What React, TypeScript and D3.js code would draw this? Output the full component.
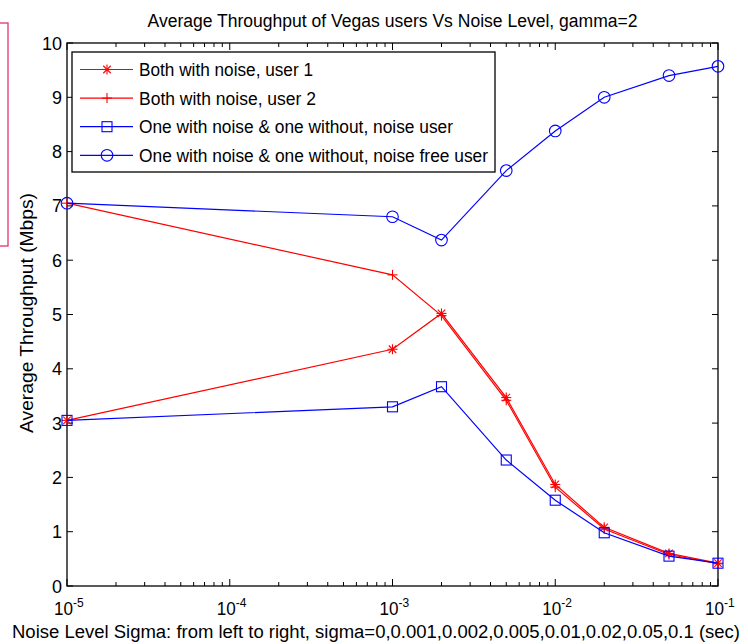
import React, { useEffect, useRef } from "react";
import * as d3 from "d3";

// Noise level sigma (sigma = 0 is plotted at 1e-5 on the log axis)
const sigma = [1e-5, 1e-3, 2e-3, 5e-3, 1e-2, 2e-2, 5e-2, 1e-1];

// Average throughput (Mbps)
const bothUser1 = [3.05, 4.36, 5.02, 3.47, 1.87, 1.08, 0.6, 0.42];
const bothUser2 = [7.05, 5.73, 4.98, 3.42, 1.82, 1.05, 0.58, 0.41];
const mixedNoiseUser = [3.05, 3.3, 3.67, 2.32, 1.58, 0.98, 0.55, 0.42];
const mixedFreeUser = [7.05, 6.8, 6.37, 7.65, 8.38, 9.0, 9.4, 9.57];

const seriesNames = [
  "Both with noise, user 1",
  "Both with noise, user 2",
  "One with noise & one without, noise user",
  "One with noise & one without, noise free user",
];

const yTicks = [0, 1, 2, 3, 4, 5, 6, 7, 8, 9, 10];
const xDecades = [-5, -4, -3, -2, -1];

const W = 748;
const H = 644;
const FONT = "'Liberation Sans', Arial, sans-serif";

type Marker = "star" | "plus" | "square" | "circle";

function drawMarker(g: d3.Selection<SVGGElement, unknown, null, undefined>, kind: Marker, x: number, y: number, color: string) {
  const r = 5;
  if (kind === "plus" || kind === "star") {
    g.append("line").attr("x1", x - r).attr("x2", x + r).attr("y1", y).attr("y2", y).attr("stroke", color).attr("stroke-width", 1.1);
    g.append("line").attr("x1", x).attr("x2", x).attr("y1", y - r).attr("y2", y + r).attr("stroke", color).attr("stroke-width", 1.1);
    if (kind === "star") {
      const d = r * 0.75;
      g.append("line").attr("x1", x - d).attr("x2", x + d).attr("y1", y - d).attr("y2", y + d).attr("stroke", color).attr("stroke-width", 1.1);
      g.append("line").attr("x1", x - d).attr("x2", x + d).attr("y1", y + d).attr("y2", y - d).attr("stroke", color).attr("stroke-width", 1.1);
    }
  } else if (kind === "square") {
    g.append("rect").attr("x", x - 5).attr("y", y - 5).attr("width", 10).attr("height", 10).attr("fill", "none").attr("stroke", color).attr("stroke-width", 1.1);
  } else {
    g.append("circle").attr("cx", x).attr("cy", y).attr("r", 5.8).attr("fill", "none").attr("stroke", color).attr("stroke-width", 1.1);
  }
}

export default function App() {
  const ref = useRef<SVGSVGElement>(null);

  useEffect(() => {
    const svg = d3.select(ref.current);
    svg.selectAll("*").remove();

    const left = 67, right = 718, top = 43, bottom = 586;
    const x = d3.scaleLog().domain([1e-5, 1e-1]).range([left, right]);
    const y = d3.scaleLinear().domain([0, 10]).range([bottom, top]);

    svg.append("rect").attr("width", W).attr("height", H).attr("fill", "#fff");

    // side frame
    svg.append("rect").attr("x", -10).attr("y", 23).attr("width", 18).attr("height", 223)
      .attr("fill", "none").attr("stroke", "#e2336e").attr("stroke-width", 1.3);

    const g = svg.append("g") as d3.Selection<SVGGElement, unknown, null, undefined>;

    // plot box
    g.append("rect").attr("x", left).attr("y", top).attr("width", right - left).attr("height", bottom - top)
      .attr("fill", "none").attr("stroke", "#000").attr("stroke-width", 1.3);

    // y ticks (both sides, inward)
    yTicks.forEach((t) => {
      const py = y(t);
      g.append("line").attr("x1", left).attr("x2", left + 6).attr("y1", py).attr("y2", py).attr("stroke", "#000");
      g.append("line").attr("x1", right).attr("x2", right - 6).attr("y1", py).attr("y2", py).attr("stroke", "#000");
      g.append("text").attr("x", left - 5).attr("y", py + 6.5).attr("text-anchor", "end")
        .attr("font-family", FONT).attr("font-size", 18).attr("fill", "#000").text(String(t));
    });

    // x ticks (log decades with minor ticks, top and bottom)
    const majors = xDecades.map((e) => Math.pow(10, e));
    const minors: number[] = [];
    majors.slice(0, -1).forEach((m) => {
      for (let k = 2; k <= 9; k++) minors.push(m * k);
    });
    majors.forEach((v) => {
      const px = x(v);
      g.append("line").attr("x1", px).attr("x2", px).attr("y1", bottom).attr("y2", bottom - 7).attr("stroke", "#000");
      g.append("line").attr("x1", px).attr("x2", px).attr("y1", top).attr("y2", top + 7).attr("stroke", "#000");
    });
    minors.forEach((v) => {
      const px = x(v);
      g.append("line").attr("x1", px).attr("x2", px).attr("y1", bottom).attr("y2", bottom - 4).attr("stroke", "#000");
      g.append("line").attr("x1", px).attr("x2", px).attr("y1", top).attr("y2", top + 4).attr("stroke", "#000");
    });
    xDecades.forEach((e) => {
      const px = x(Math.pow(10, e));
      const t = g.append("text").attr("x", px - 13).attr("y", 615).attr("text-anchor", "start")
        .attr("font-family", FONT).attr("font-size", 18).attr("fill", "#000");
      t.append("tspan").attr("textLength", 19).attr("lengthAdjust", "spacingAndGlyphs").text("10");
      t.append("tspan").attr("dy", -8).attr("font-size", 12).text(String(e));
    });

    // series
    const series: { vals: number[]; color: string; marker: Marker }[] = [
      { vals: bothUser1, color: "#ff0000", marker: "star" },
      { vals: bothUser2, color: "#ff0000", marker: "plus" },
      { vals: mixedNoiseUser, color: "#0000ff", marker: "square" },
      { vals: mixedFreeUser, color: "#0000ff", marker: "circle" },
    ];
    const line = d3.line<number>().x((_, i) => x(sigma[i])).y((d) => y(d));
    series.forEach((s) => {
      g.append("path").attr("d", line(s.vals) as string).attr("fill", "none")
        .attr("stroke", s.color).attr("stroke-width", 1.2);
      s.vals.forEach((v, i) => drawMarker(g, s.marker, x(sigma[i]), y(v), s.color));
    });

    // legend
    const lx = 72, ly = 52, lw = 423, lh = 120;
    const legendTextWidths = [174, 177, 314, 349];
    g.append("rect").attr("x", lx).attr("y", ly).attr("width", lw).attr("height", lh)
      .attr("fill", "#fff").attr("stroke", "#000").attr("stroke-width", 1.3);
    series.forEach((s, i) => {
      const yy = ly + 17.5 + i * 28.6;
      g.append("line").attr("x1", lx + 8).attr("x2", lx + 61).attr("y1", yy).attr("y2", yy)
        .attr("stroke", s.color).attr("stroke-width", 1.2);
      drawMarker(g, s.marker, lx + 35, yy, s.color);
      g.append("text").attr("x", lx + 67).attr("y", yy + 6.7)
        .attr("font-family", FONT).attr("font-size", 18).attr("fill", "#000")
        .attr("textLength", legendTextWidths[i]).attr("lengthAdjust", "spacingAndGlyphs")
        .text(seriesNames[i]);
    });

    // title and axis labels
    svg.append("text").attr("x", (left + right) / 2).attr("y", 27).attr("text-anchor", "middle")
      .attr("font-family", FONT).attr("font-size", 18).attr("fill", "#000")
      .attr("textLength", 490).attr("lengthAdjust", "spacingAndGlyphs")
      .text("Average Throughput of Vegas users Vs Noise Level, gamma=2");
    svg.append("text").attr("transform", `translate(33,313) rotate(-90)`)
      .attr("text-anchor", "middle").attr("font-family", FONT).attr("font-size", 18).attr("fill", "#000")
      .attr("textLength", 240).attr("lengthAdjust", "spacingAndGlyphs")
      .text("Average Throughput (Mbps)");
    svg.append("text").attr("x", 376).attr("y", 638).attr("text-anchor", "middle")
      .attr("font-family", FONT).attr("font-size", 18).attr("fill", "#000")
      .attr("textLength", 728).attr("lengthAdjust", "spacingAndGlyphs")
      .text("Noise Level Sigma: from left to right, sigma=0,0.001,0.002,0.005,0.01,0.02,0.05,0.1 (sec)");
  }, []);

  return (
    <svg ref={ref} width={W} height={H} style={{ position: "absolute", left: 0, top: 0 }} />
  );
}
